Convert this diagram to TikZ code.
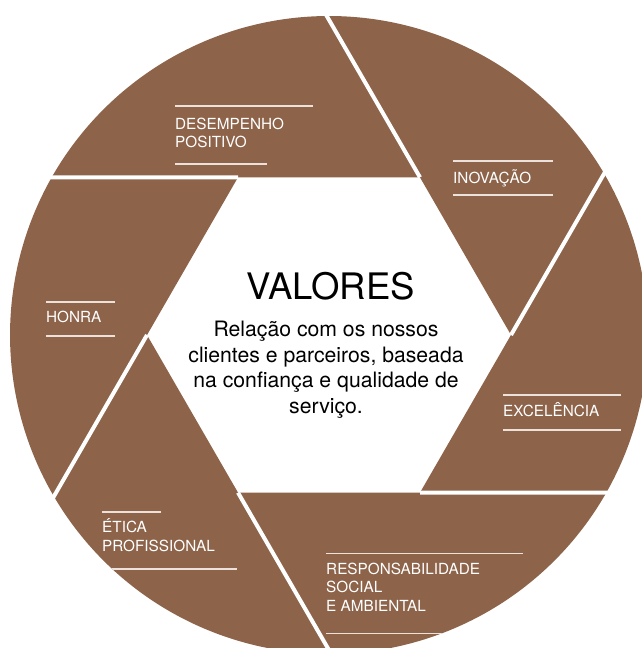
\documentclass[tikz,border=0pt]{standalone}
\usepackage{fontspec}
\setmainfont{TeX Gyre Heros}
\usetikzlibrary{calc}
\definecolor{blade}{RGB}{141,99,74}
\definecolor{rulec}{RGB}{236,226,219}
\begin{document}
\begin{tikzpicture}[x=1pt,y=1pt,
  bladefill/.style={fill=blade},
  gapline/.style={draw=white,line width=4pt},
  labelrule/.style={draw=rulec,line width=1.3pt},
  lbl/.style={anchor=base west,inner sep=0pt,text=white,font=\fontsize{15.3}{19}\selectfont},
  ctitle/.style={anchor=base,inner sep=0pt,text=black,font=\fontsize{36.5}{40}\selectfont},
  cbody/.style={anchor=base,inner sep=0pt,text=black,font=\fontsize{21.2}{25}\selectfont}]
\useasboundingbox (0,0) rectangle (641,648);
\coordinate (C) at (329,313);
% blades
\foreach \t in {0,60,...,300}{
  \fill[bladefill] ($(C)+(\t:182)$) -- ($(C)+(\t+30.4:319)$)
    arc[start angle=\t+30.4, end angle=\t+90.4, radius=319] -- cycle;
}
% white gaps between blades
\foreach \t in {0,60,...,300}{
  \draw[gapline] ($(C)+(\t+60:182)$) -- ($(C)+(\t+90.4:319)+(\t+120:8)$);
}
% label rules, clipped by the circle
\begin{scope}
  \clip (C) circle[radius=319];
  \draw[labelrule] (175,542) -- (313,542);
  \draw[labelrule] (175,484) -- (267,484);
  \draw[labelrule] (453,487) -- (553,487);
  \draw[labelrule] (453,453) -- (553,453);
  \draw[labelrule] (46,346) -- (115,346);
  \draw[labelrule] (46,312) -- (115,312);
  \draw[labelrule] (503,253) -- (621,253);
  \draw[labelrule] (503,218) -- (621,218);
  \draw[labelrule] (102,136) -- (161,136);
  \draw[labelrule] (90,79) -- (237,79);
  \draw[labelrule] (326,94.7) -- (523,94.7);
  \draw[labelrule] (326,14.7) -- (523,14.7);
\end{scope}
% labels
\node[lbl] (desA) at (175,518.7) {DESEMPENHO};
\node[lbl] (desB) at (175,500.3) {POSITIVO};
\node[lbl] (ino) at (453,464.7) {INOVAÇÃO};
\node[lbl] (hon) at (46,325) {HONRA};
\node[lbl] (exc) at (503,231) {EXCELÊNCIA};
\node[lbl] (etiA) at (102,115) {ÉTICA};
\node[lbl] (etiB) at (102,96) {PROFISSIONAL};
\node[lbl] (resA) at (326,73.7) {RESPONSABILIDADE};
\node[lbl] (resB) at (326,55.3) {SOCIAL};
\node[lbl] (resC) at (326,36.3) {E AMBIENTAL};
% centre
\node[ctitle] (title) at (330.5,348) {VALORES};
\node[cbody] (b1) at (326,311) {Relação com os nossos};
\node[cbody] (b2) at (326,285.5) {clientes e parceiros, baseada};
\node[cbody] (b3) at (326,260) {na confiança e qualidade de};
\node[cbody] (b4) at (326,234.5) {serviço.};
\end{tikzpicture}
\end{document}
